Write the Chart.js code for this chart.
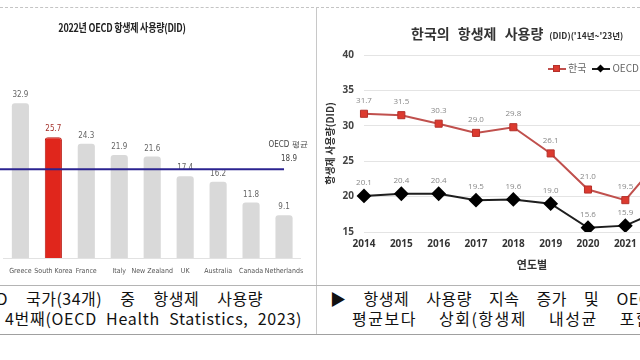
<!DOCTYPE html>
<html>
<head>
<meta charset="utf-8">
<script src="https://cdn.jsdelivr.net/npm/chart.js@4.4.0/dist/chart.umd.min.js"></script>
<style>
  html, body { margin: 0; padding: 0; }
  body { width: 640px; height: 360px; overflow: hidden; position: relative; background: #fff;
         font-family: "Noto Sans CJK KR", "Noto Sans", sans-serif; }
  .abs { position: absolute; }
  .rule-top { left: 0; top: 7px; width: 640px; border-top: 1px dashed #c4c4c4; }
  .divider { left: 316px; top: 7px; height: 327px; border-left: 1px solid #c8c8c8; }
  .cap-top { left: 0; top: 285px; width: 640px; border-top: 1px solid #b4b4b4; }
  .cap-bot { left: 0; top: 334px; width: 640px; border-top: 1px solid #a0a0a0; }
  #leftBox { left: 0; top: 0; width: 315px; height: 285px; }
  #rightBox { left: 320px; top: 10px; width: 400px; height: 265px; }
  .ltitle { left: 122px; top: 19px; transform: translateX(-50%) scaleX(0.82); white-space: nowrap;
            font-weight: 700; font-size: 11px; color: #222; letter-spacing: -0.3px; }
  .rtitle { left: 411px; top: 23px; white-space: nowrap; font-weight: 700; font-size: 14px; color: #333; word-spacing: 5px; }
  .rtitle small { font-size: 8.5px; word-spacing: 0; margin-left: 6px; }
  .legend { left: 548px; top: 60px; white-space: nowrap; font-size: 10px; color: #666; }
  .legend span.item { display: inline-block; margin-right: 6px; }
  .legend i { display: inline-block; position: relative; width: 18px; height: 2px; vertical-align: middle; margin-right: 2px; }
  .legend i b { position: absolute; left: 5px; top: -3px; width: 7px; height: 7px; }
  .cap { white-space: nowrap; font-size: 16px; color: #111; line-height: 20px; letter-spacing: 0.5px; }
</style>
</head>
<body>
<div class="abs rule-top"></div>
<div class="abs divider"></div>
<div class="abs cap-top"></div>
<div class="abs cap-bot"></div>

<div class="abs" id="leftBox"><canvas id="leftChart"></canvas></div>
<div class="abs ltitle">2022년 OECD 항생제 사용량(DID)</div>

<div class="abs" id="rightBox"><canvas id="rightChart"></canvas></div>
<div class="abs rtitle">한국의 항생제 사용량<small>(DID)('14년~'23년)</small></div>
<div class="abs legend" id="legend"></div>

<div class="abs cap" style="right:377px; top:288px; word-spacing:14px;">OECD 국가(34개) 중 항생제 사용량</div>
<div class="abs cap" style="left:5px; top:308px; word-spacing:5px; letter-spacing:0.7px;">4번째(OECD Health Statistics, 2023)</div>
<div class="abs cap" style="left:330px; top:288px; word-spacing:13px;">▶ 항생제 사용량 지속 증가 및 OECD</div>
<div class="abs cap" style="left:352px; top:308px; word-spacing:17px; letter-spacing:1.5px;">평균보다 상회(항생제 내성균 포함)</div>

<script>
// Left chart: 2022 OECD antibiotic use (DID)
const countries = ['Greece', 'South Korea', 'France', 'Italy', 'New Zealand', 'UK', 'Australia', 'Canada', 'Netherlands'];
const use2022 = [32.9, 25.7, 24.3, 21.9, 21.6, 17.4, 16.2, 11.8, 9.1];
const oecdAvg = 18.9;
const highlight = 'South Korea';

// Right chart: Korea vs OECD average, 2014-2023
const years = ['2014', '2015', '2016', '2017', '2018', '2019', '2020', '2021', '2022', '2023'];
const korea = [31.7, 31.5, 30.3, 29.0, 29.8, 26.1, 21.0, 19.5, 25.7, 31.8];
const oecd = [20.1, 20.4, 20.4, 19.5, 19.6, 19.0, 15.6, 15.9, 18.2, 18.9];
const seriesNames = ['한국', 'OECD 평균'];
const yTicks = [15, 20, 25, 30, 35, 40];

const narrow = '"Liberation Sans Narrow", "DejaVu Sans Condensed", sans-serif';

// draws the value above every bar / point
const valueLabels = {
    id: 'valueLabels',
    afterDatasetsDraw(chart, args, opts) {
        const ctx = chart.ctx;
        ctx.save();
        ctx.textAlign = 'center';
        ctx.textBaseline = 'bottom';
        chart.data.datasets.forEach((ds, di) => {
            const meta = chart.getDatasetMeta(di);
            meta.data.forEach((el, i) => {
                ctx.font = opts.font;
                ctx.fillStyle = typeof opts.color === 'function' ? opts.color(i) : opts.color;
                ctx.fillText(ds.data[i].toFixed(1), el.x, el.y - opts.offset);
            });
        });
        ctx.restore();
    }
};

// OECD average reference line on the left chart
const avgLine = {
    id: 'avgLine',
    afterDatasetsDraw(chart) {
        const ctx = chart.ctx;
        const y = chart.scales.y.getPixelForValue(oecdAvg);
        const xEnd = chart.scales.x.getPixelForValue(countries.length - 1);
        ctx.save();
        ctx.strokeStyle = '#2b2390';
        ctx.lineWidth = 2;
        ctx.beginPath();
        ctx.moveTo(0, y);
        ctx.lineTo(xEnd, y);
        ctx.stroke();
        ctx.fillStyle = '#444';
        ctx.textAlign = 'center';
        ctx.font = '8px ' + narrow;
        ctx.fillText('OECD 평균', xEnd + 4, y - 22);
        ctx.fillText(oecdAvg.toFixed(1), xEnd + 5, y - 8);
        ctx.restore();
    }
};

new Chart(document.getElementById('leftChart'), {
    type: 'bar',
    data: {
        labels: countries,
        datasets: [{
            data: use2022,
            backgroundColor: countries.map(c => c === highlight ? '#e0261c' : '#d9d9d9'),
            borderColor: countries.map(c => c === highlight ? '#b81c14' : '#d9d9d9'),
            borderWidth: countries.map(c => c === highlight ? 1 : 0),
            borderRadius: { topLeft: 3, topRight: 3 },
            borderSkipped: 'bottom',
            barPercentage: 0.52,
            categoryPercentage: 1
        }]
    },
    options: {
        responsive: true,
        maintainAspectRatio: false,
        animation: false,
        layout: { padding: { top: 70, left: 3.5, right: 14.5, bottom: 0 } },
        scales: {
            y: { display: false, min: 0, max: 40 },
            x: {
                grid: { display: false, drawTicks: false },
                border: { display: true, color: '#e2e2e2', width: 1 },
                ticks: { color: '#555', font: { family: narrow, size: 7 }, padding: 9, maxRotation: 0, autoSkip: false },
                afterFit(scale) { scale.height = 27; }
            }
        },
        plugins: {
            legend: { display: false },
            tooltip: { enabled: false },
            valueLabels: { font: '8px ' + narrow, offset: 4, color: i => countries[i] === highlight ? '#a3302a' : '#666' }
        }
    },
    plugins: [valueLabels, avgLine]
});

new Chart(document.getElementById('rightChart'), {
    type: 'line',
    data: {
        labels: years,
        datasets: [
            {
                label: seriesNames[0],
                data: korea,
                borderColor: '#c0504d',
                borderWidth: 2,
                pointStyle: 'rect',
                pointRadius: 5,
                pointBackgroundColor: '#dc3a2f',
                pointBorderColor: '#b5302a',
                pointBorderWidth: 1
            },
            {
                label: seriesNames[1],
                data: oecd,
                borderColor: '#1e1e1e',
                borderWidth: 2,
                pointStyle: 'rectRot',
                pointRadius: 6,
                pointBackgroundColor: '#000',
                pointBorderColor: '#000'
            }
        ]
    },
    options: {
        responsive: true,
        maintainAspectRatio: false,
        animation: false,
        layout: { padding: { top: 45, right: 20, left: 0, bottom: 0 } },
        scales: {
            y: {
                min: 15,
                max: 40,
                afterBuildTicks(scale) { scale.ticks = yTicks.map(v => ({ value: v })); },
                grid: { color: '#e4e4e4', drawTicks: false },
                border: { display: false },
                ticks: { color: '#444', font: { family: '"Open Sans", sans-serif', size: 10, weight: 'bold' }, padding: 10 },
                title: { display: true, text: '항생제 사용량(DID)', color: '#333',
                         font: { family: '"Noto Sans CJK KR", sans-serif', size: 10, weight: 'bold' } },
                afterFit(scale) { scale.width = 44; }
            },
            x: {
                grid: { display: false, drawTicks: false },
                border: { display: false },
                ticks: { color: '#333', font: { family: '"Open Sans", sans-serif', size: 10, weight: 'bold' }, padding: 6, maxRotation: 0 },
                title: { display: true, text: '연도별', color: '#333',
                         font: { family: '"Noto Sans CJK KR", sans-serif', size: 11, weight: 'bold' } },
                afterFit(scale) { scale.height = 43; }
            }
        },
        plugins: {
            legend: { display: false },
            tooltip: { enabled: false },
            valueLabels: { font: '8px "Open Sans", sans-serif', offset: 9, color: '#888' }
        }
    },
    plugins: [valueLabels]
});

// small html legend with line + marker swatches
const legendEl = document.getElementById('legend');
const swatches = [
    { line: '#c0504d', mark: 'background:#dc3a2f;border:1px solid #b5302a;box-sizing:border-box;' },
    { line: '#1e1e1e', mark: 'background:#000;transform:rotate(45deg) scale(0.8);' }
];
legendEl.innerHTML = seriesNames.map((n, i) =>
    '<span class="item"><i style="background:' + swatches[i].line + '"><b style="' + swatches[i].mark + '"></b></i>' + n + '</span>'
).join('');
</script>
</body>
</html>
